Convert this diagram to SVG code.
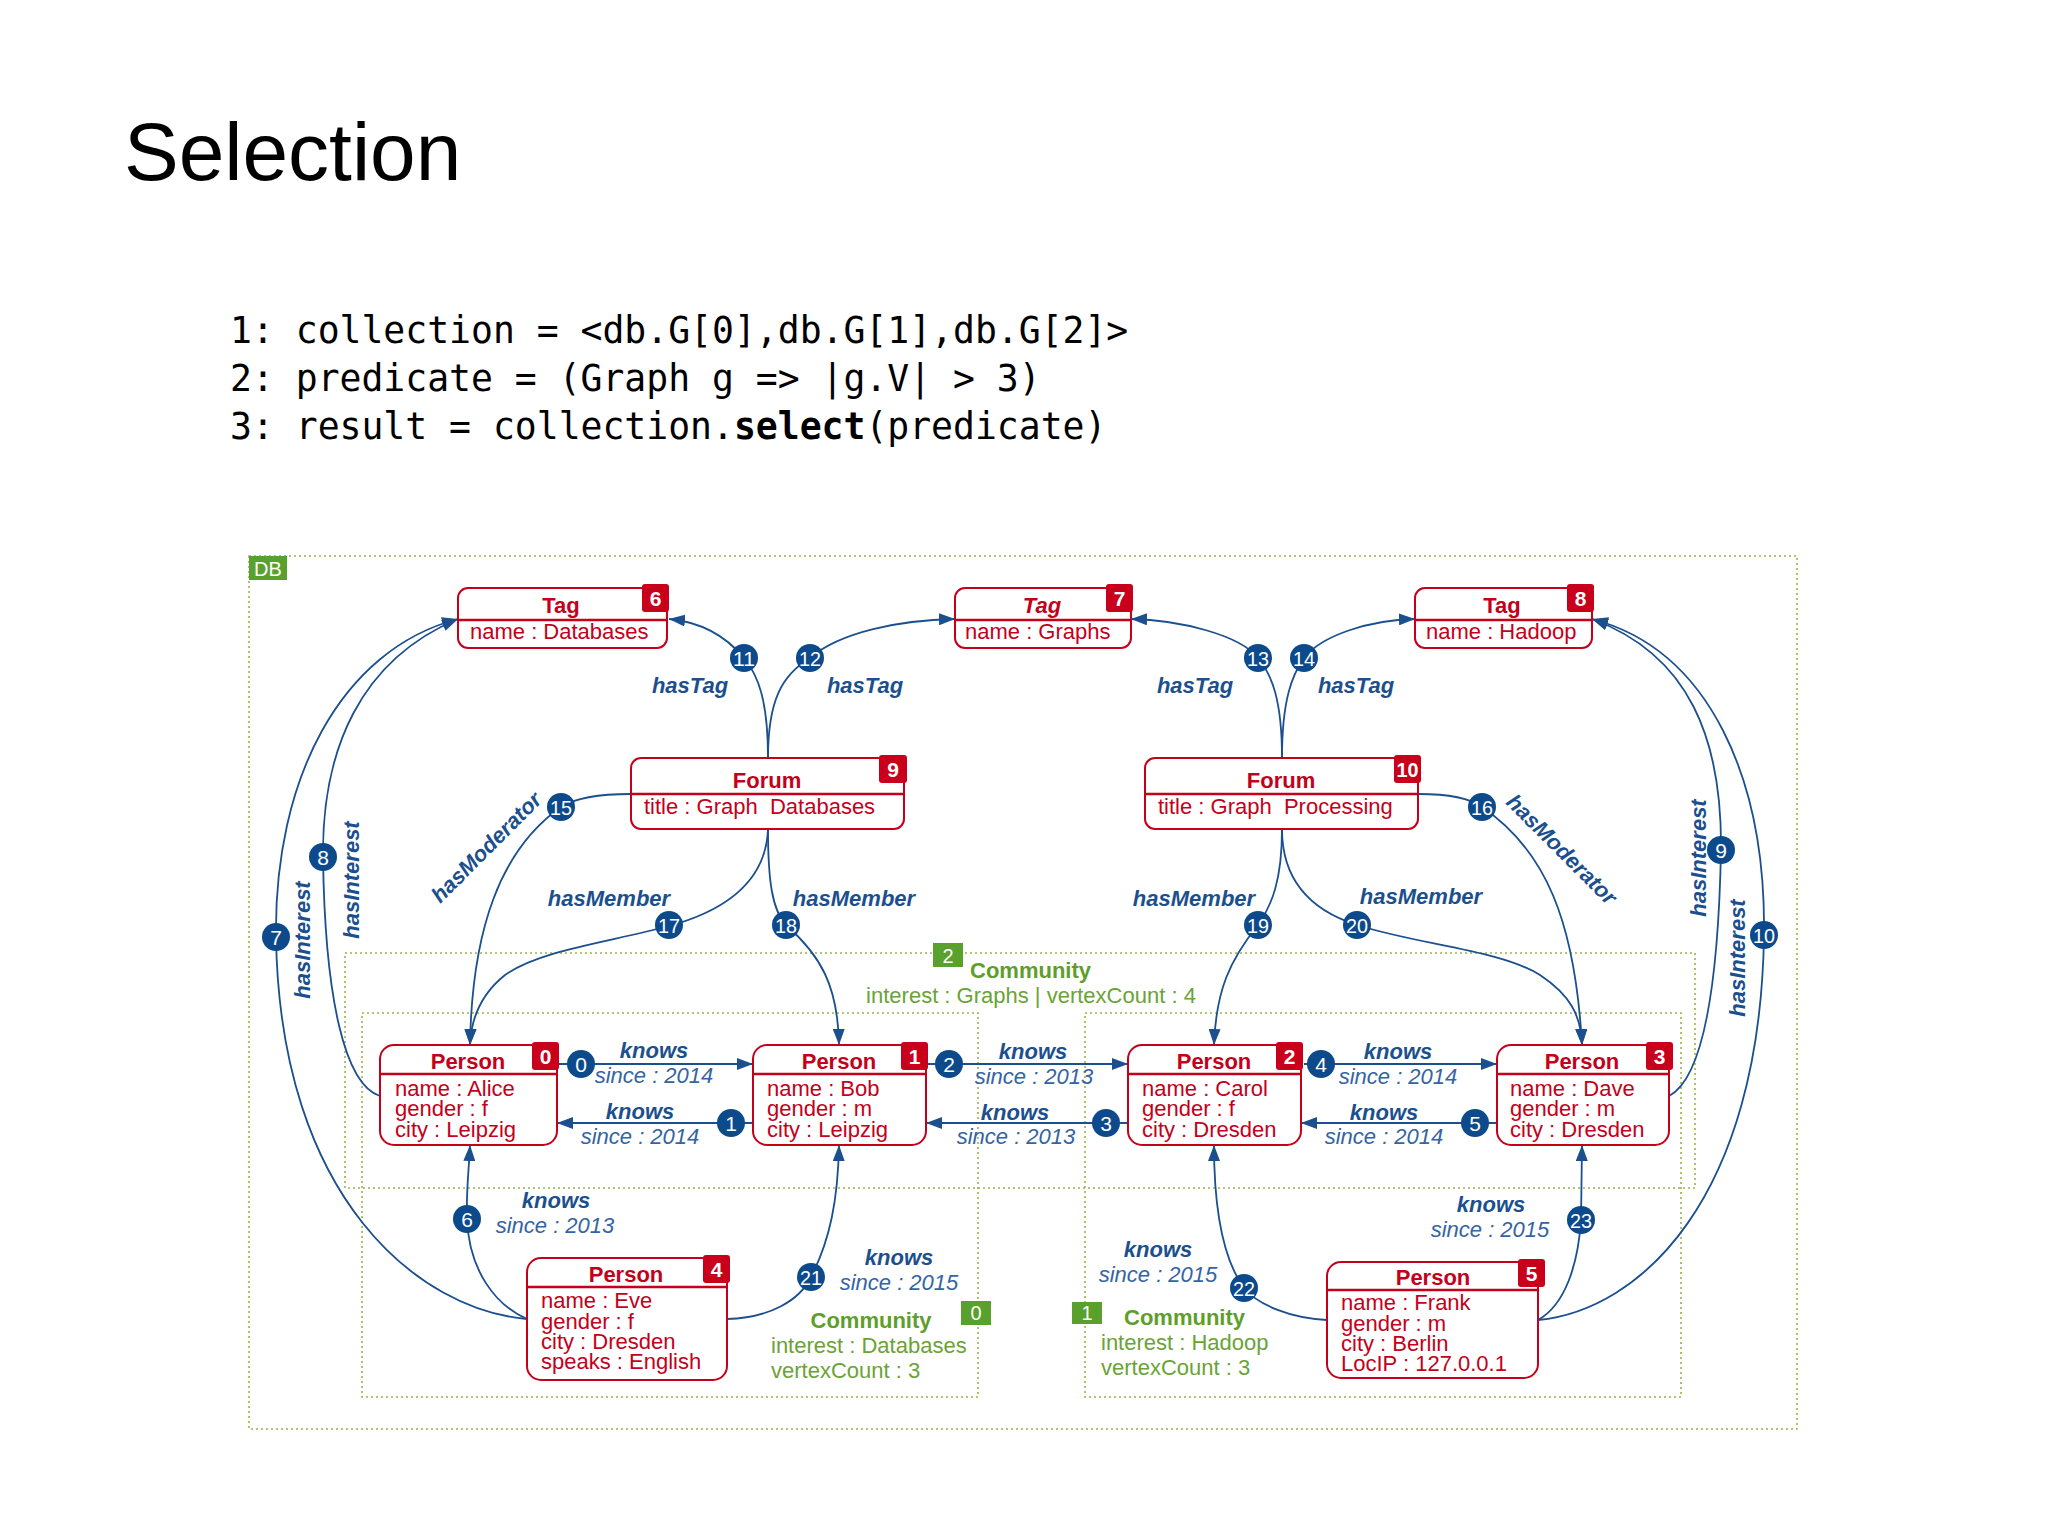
<svg xmlns="http://www.w3.org/2000/svg" width="2048" height="1536" viewBox="0 0 2048 1536">
<defs>
<marker id="arr" markerUnits="userSpaceOnUse" viewBox="0 0 16 12" refX="16" refY="6" markerWidth="16" markerHeight="12" orient="auto">
<path d="M0,0 L16,6 L0,12 z" fill="#1b4f8d"/>
</marker>
<style>
.title{font-family:"Liberation Sans",Arial,sans-serif;font-size:82px;fill:#000}
.code{font-family:"DejaVu Sans Mono","Liberation Mono",monospace;font-size:36.4px;fill:#000;white-space:pre}
.box{fill:#fff;stroke:#c4001a;stroke-width:2}
.div{stroke:#c4001a;stroke-width:2.5}
.badge{fill:#c9001b}
.bt{font-family:"Liberation Sans",Arial,sans-serif;font-size:21px;font-weight:bold;fill:#fff;text-anchor:middle}
.hd{font-family:"Liberation Sans",Arial,sans-serif;font-size:22px;font-weight:bold;fill:#c4001a;text-anchor:middle}
.at{font-family:"Liberation Sans",Arial,sans-serif;font-size:22px;fill:#c4001a;white-space:pre}
.ea{fill:none;stroke:#1b4f8d;stroke-width:1.8;marker-end:url(#arr)}
.ec{fill:#0c4a8c}
.et{font-family:"Liberation Sans",Arial,sans-serif;font-size:21px;fill:#fff;text-anchor:middle}
.lb{font-family:"Liberation Sans",Arial,sans-serif;font-size:22px;font-weight:bold;font-style:italic;fill:#1b4f8d;text-anchor:middle}
.ls{font-family:"Liberation Sans",Arial,sans-serif;font-size:22px;font-style:italic;fill:#3564a3;text-anchor:middle}
.dot{fill:none;stroke:#9ab34a;stroke-width:1.6;stroke-dasharray:2 3}
.gl{fill:#5aa02c}
.glt{font-family:"Liberation Sans",Arial,sans-serif;font-size:20px;fill:#fff;text-anchor:middle}
.cm{font-family:"Liberation Sans",Arial,sans-serif;font-size:22px;font-weight:bold;fill:#5e9e2b}
.ci{font-family:"Liberation Sans",Arial,sans-serif;font-size:22px;fill:#6aa336}
</style>
</defs>
<rect width="2048" height="1536" fill="#fff"/>

<text class="title" x="124" y="180">Selection</text>
<text class="code" x="230" y="343">1: collection = &lt;db.G[0],db.G[1],db.G[2]&gt;</text>
<text class="code" x="230" y="391">2: predicate = (Graph g =&gt; |g.V| &gt; 3)</text>
<text class="code" x="230" y="439">3: result = collection.<tspan font-weight="bold">select</tspan>(predicate)</text>

<g id="graphs">
<g id="db">
<rect class="dot" x="249" y="556" width="1548" height="873"/>
<rect class="gl" x="249" y="556" width="38" height="24"/>
<text class="glt" x="268" y="576">DB</text>
</g>
<g id="community2">
<rect class="dot" x="345" y="953" width="1350" height="235"/>
<rect class="gl" x="933" y="943" width="30" height="24"/>
<text class="glt" x="948" y="963">2</text>
<text class="cm" x="970" y="978">Community</text>
<text class="ci" x="1031" y="1003" text-anchor="middle">interest : Graphs | vertexCount : 4</text>
</g>
<g id="community0">
<rect class="dot" x="362" y="1013" width="616" height="384"/>
<rect class="gl" x="961" y="1301" width="30" height="24"/>
<text class="glt" x="976" y="1320">0</text>
<text class="cm" x="871" y="1328" text-anchor="middle">Community</text>
<text class="ci" x="771" y="1353">interest : Databases</text>
<text class="ci" x="771" y="1378">vertexCount : 3</text>
</g>
<g id="community1">
<rect class="dot" x="1085" y="1013" width="596" height="384"/>
<rect class="gl" x="1072" y="1302" width="30" height="22"/>
<text class="glt" x="1087" y="1320">1</text>
<text class="cm" x="1124" y="1325">Community</text>
<text class="ci" x="1101" y="1350">interest : Hadoop</text>
<text class="ci" x="1101" y="1375">vertexCount : 3</text>
</g>
</g>

<g id="connectors">
<path class="ea" d="M768,758 C768,700 758,675 744,658 C725,635 700,622 669,619"/>
<path class="ea" d="M768,758 C768,700 782,675 810,658 C840,632 900,620 955,619"/>
<path class="ea" d="M1282,758 C1282,700 1272,675 1258,658 C1240,635 1180,620 1131,619"/>
<path class="ea" d="M1282,758 C1282,700 1292,675 1304,658 C1322,635 1370,620 1415,619"/>
<path class="ea" d="M631,794 C600,794 575,798 561,807 C500,850 472,930 470,1045"/>
<path class="ea" d="M768,829 C766,885 720,912 669,926 C610,942 540,950 505,975 C480,995 471,1020 470,1045"/>
<path class="ea" d="M768,829 C768,880 772,910 786,925 C820,955 838,985 839,1045"/>
<path class="ea" d="M1282,829 C1282,880 1272,905 1258,925 C1230,960 1216,990 1214,1045"/>
<path class="ea" d="M1282,829 C1282,880 1310,910 1357,925 C1420,945 1500,950 1540,975 C1570,995 1581,1015 1582,1045"/>
<path class="ea" d="M1418,794 C1450,794 1470,798 1482,807 C1545,850 1575,920 1582,1045"/>
<path class="ea" d="M380,1096 C345,1085 325,1000 323,857 C322,750 360,660 458,619"/>
<path class="ea" d="M527,1319 C420,1310 280,1200 276,937 C274,780 340,650 458,619"/>
<path class="ea" d="M1669,1096 C1700,1080 1718,1000 1721,850 C1722,740 1690,655 1592,619"/>
<path class="ea" d="M1538,1320 C1640,1310 1760,1200 1764,935 C1766,780 1710,650 1592,619"/>
<path class="ea" d="M527,1319 C495,1305 469,1270 467,1219 C466,1190 469,1170 470,1145"/>
<path class="ea" d="M727,1319 C770,1318 800,1300 811,1277 C830,1240 838,1200 839,1145"/>
<path class="ea" d="M1327,1320 C1290,1318 1258,1305 1244,1288 C1220,1255 1214,1200 1214,1145"/>
<path class="ea" d="M1538,1320 C1565,1305 1578,1265 1581,1220 L1582,1145"/>
<path class="ea" d="M559,1064 L753,1064"/>
<path class="ea" d="M753,1123 L557,1123"/>
<path class="ea" d="M928,1064 L1128,1064"/>
<path class="ea" d="M1128,1123 L926,1123"/>
<path class="ea" d="M1304,1064 L1497,1064"/>
<path class="ea" d="M1497,1123 L1301,1123"/>

<g id="edge-ids">
<circle class="ec" cx="581" cy="1064" r="14"/><text class="et" x="581" y="1071.5">0</text>
<circle class="ec" cx="731" cy="1123" r="14"/><text class="et" x="731" y="1130.5">1</text>
<circle class="ec" cx="949" cy="1064" r="14"/><text class="et" x="949" y="1071.5">2</text>
<circle class="ec" cx="1106" cy="1123" r="14"/><text class="et" x="1106" y="1130.5">3</text>
<circle class="ec" cx="1321" cy="1064" r="14"/><text class="et" x="1321" y="1071.5">4</text>
<circle class="ec" cx="1475" cy="1123" r="14"/><text class="et" x="1475" y="1130.5">5</text>
<circle class="ec" cx="467" cy="1219" r="14"/><text class="et" x="467" y="1226.5">6</text>
<circle class="ec" cx="276" cy="937" r="14"/><text class="et" x="276" y="944.5">7</text>
<circle class="ec" cx="323" cy="857" r="14"/><text class="et" x="323" y="864.5">8</text>
<circle class="ec" cx="1721" cy="850" r="14"/><text class="et" x="1721" y="857.5">9</text>
<circle class="ec" cx="1764" cy="935" r="14"/><text class="et" x="1764" y="942.5" textLength="22" lengthAdjust="spacingAndGlyphs">10</text>
<circle class="ec" cx="744" cy="658" r="14"/><text class="et" x="744" y="665.5" textLength="22" lengthAdjust="spacingAndGlyphs">11</text>
<circle class="ec" cx="810" cy="658" r="14"/><text class="et" x="810" y="665.5" textLength="22" lengthAdjust="spacingAndGlyphs">12</text>
<circle class="ec" cx="1258" cy="658" r="14"/><text class="et" x="1258" y="665.5" textLength="22" lengthAdjust="spacingAndGlyphs">13</text>
<circle class="ec" cx="1304" cy="658" r="14"/><text class="et" x="1304" y="665.5" textLength="22" lengthAdjust="spacingAndGlyphs">14</text>
<circle class="ec" cx="561" cy="807" r="14"/><text class="et" x="561" y="814.5" textLength="22" lengthAdjust="spacingAndGlyphs">15</text>
<circle class="ec" cx="1482" cy="807" r="14"/><text class="et" x="1482" y="814.5" textLength="22" lengthAdjust="spacingAndGlyphs">16</text>
<circle class="ec" cx="669" cy="925" r="14"/><text class="et" x="669" y="932.5" textLength="22" lengthAdjust="spacingAndGlyphs">17</text>
<circle class="ec" cx="786" cy="925" r="14"/><text class="et" x="786" y="932.5" textLength="22" lengthAdjust="spacingAndGlyphs">18</text>
<circle class="ec" cx="1258" cy="925" r="14"/><text class="et" x="1258" y="932.5" textLength="22" lengthAdjust="spacingAndGlyphs">19</text>
<circle class="ec" cx="1357" cy="925" r="14"/><text class="et" x="1357" y="932.5" textLength="22" lengthAdjust="spacingAndGlyphs">20</text>
<circle class="ec" cx="811" cy="1277" r="14"/><text class="et" x="811" y="1284.5" textLength="22" lengthAdjust="spacingAndGlyphs">21</text>
<circle class="ec" cx="1244" cy="1288" r="14"/><text class="et" x="1244" y="1295.5" textLength="22" lengthAdjust="spacingAndGlyphs">22</text>
<circle class="ec" cx="1581" cy="1220" r="14"/><text class="et" x="1581" y="1227.5" textLength="22" lengthAdjust="spacingAndGlyphs">23</text>
</g>

<g id="edge-labels">
<text class="lb" x="690" y="693">hasTag</text>
<text class="lb" x="865" y="693">hasTag</text>
<text class="lb" x="1195" y="693">hasTag</text>
<text class="lb" x="1356" y="693">hasTag</text>
<text class="lb" x="609" y="906">hasMember</text>
<text class="lb" x="854" y="906">hasMember</text>
<text class="lb" x="1194" y="906">hasMember</text>
<text class="lb" x="1421" y="904">hasMember</text>
<text class="lb" transform="translate(486,847) rotate(-45)" x="0" y="8">hasModerator</text>
<text class="lb" transform="translate(1562,849) rotate(45)" x="0" y="8">hasModerator</text>
<text class="lb" transform="translate(351,880) rotate(-90)" x="0" y="8">hasInterest</text>
<text class="lb" transform="translate(302,940) rotate(-90)" x="0" y="8">hasInterest</text>
<text class="lb" transform="translate(1698,858) rotate(-90)" x="0" y="8">hasInterest</text>
<text class="lb" transform="translate(1737,958) rotate(-90)" x="0" y="8">hasInterest</text>
<text class="lb" x="654" y="1058">knows</text><text class="ls" x="654" y="1083">since : 2014</text>
<text class="lb" x="640" y="1119">knows</text><text class="ls" x="640" y="1144">since : 2014</text>
<text class="lb" x="1033" y="1059">knows</text><text class="ls" x="1034" y="1084">since : 2013</text>
<text class="lb" x="1015" y="1120">knows</text><text class="ls" x="1016" y="1144">since : 2013</text>
<text class="lb" x="1398" y="1059">knows</text><text class="ls" x="1398" y="1084">since : 2014</text>
<text class="lb" x="1384" y="1120">knows</text><text class="ls" x="1384" y="1144">since : 2014</text>
<text class="lb" x="556" y="1208">knows</text><text class="ls" x="555" y="1233">since : 2013</text>
<text class="lb" x="899" y="1265">knows</text><text class="ls" x="899" y="1290">since : 2015</text>
<text class="lb" x="1158" y="1257">knows</text><text class="ls" x="1158" y="1282">since : 2015</text>
<text class="lb" x="1491" y="1212">knows</text><text class="ls" x="1490" y="1237">since : 2015</text>
</g>
</g>

<g id="tag6">
<rect class="box" x="458" y="588" width="209" height="60" rx="10"/>
<line class="div" x1="458" y1="620" x2="667" y2="620"/>
<rect class="badge" x="642" y="584" width="27" height="28" rx="3"/>
<text class="bt" x="655.5" y="606">6</text>
<text class="hd" x="561" y="613">Tag</text>
<text class="at" x="470" y="639">name : Databases</text>
</g>
<g id="tag7">
<rect class="box" x="955" y="588" width="176" height="60" rx="10"/>
<line class="div" x1="955" y1="620" x2="1131" y2="620"/>
<rect class="badge" x="1106" y="584" width="27" height="28" rx="3"/>
<text class="bt" x="1119.5" y="606">7</text>
<text class="hd" x="1042" y="613" font-style="italic">Tag</text>
<text class="at" x="965" y="639">name : Graphs</text>
</g>
<g id="tag8">
<rect class="box" x="1415" y="588" width="177" height="60" rx="10"/>
<line class="div" x1="1415" y1="620" x2="1592" y2="620"/>
<rect class="badge" x="1567" y="584" width="27" height="28" rx="3"/>
<text class="bt" x="1580.5" y="606">8</text>
<text class="hd" x="1502" y="613">Tag</text>
<text class="at" x="1426" y="639">name : Hadoop</text>
</g>
<g id="forum9">
<rect class="box" x="631" y="758" width="273" height="71" rx="10"/>
<line class="div" x1="631" y1="794" x2="904" y2="794"/>
<rect class="badge" x="879" y="755" width="28" height="28" rx="3"/>
<text class="bt" x="893" y="777">9</text>
<text class="hd" x="767" y="788">Forum</text>
<text class="at" x="644" y="814">title : Graph  Databases</text>
</g>
<g id="forum10">
<rect class="box" x="1145" y="758" width="273" height="71" rx="10"/>
<line class="div" x1="1145" y1="794" x2="1418" y2="794"/>
<rect class="badge" x="1394" y="755" width="27" height="28" rx="3"/>
<text class="bt" x="1407.5" y="777" textLength="22" lengthAdjust="spacingAndGlyphs">10</text>
<text class="hd" x="1281" y="788">Forum</text>
<text class="at" x="1158" y="814">title : Graph  Processing</text>
</g>
<g id="person0">
<rect class="box" x="380" y="1045" width="177" height="100" rx="14"/>
<line class="div" x1="380" y1="1074" x2="557" y2="1074"/>
<rect class="badge" x="532" y="1042" width="27" height="28" rx="3"/>
<text class="bt" x="545.5" y="1064">0</text>
<text class="hd" x="468" y="1069">Person</text>
<text class="at" x="395" y="1096">name : Alice</text>
<text class="at" x="395" y="1116">gender : f</text>
<text class="at" x="395" y="1137">city : Leipzig</text>
</g>
<g id="person1">
<rect class="box" x="753" y="1045" width="173" height="100" rx="14"/>
<line class="div" x1="753" y1="1074" x2="926" y2="1074"/>
<rect class="badge" x="901" y="1042" width="27" height="28" rx="3"/>
<text class="bt" x="914.5" y="1064">1</text>
<text class="hd" x="839" y="1069">Person</text>
<text class="at" x="767" y="1096">name : Bob</text>
<text class="at" x="767" y="1116">gender : m</text>
<text class="at" x="767" y="1137">city : Leipzig</text>
</g>
<g id="person2">
<rect class="box" x="1128" y="1045" width="173" height="100" rx="14"/>
<line class="div" x1="1128" y1="1074" x2="1301" y2="1074"/>
<rect class="badge" x="1276" y="1042" width="27" height="28" rx="3"/>
<text class="bt" x="1289.5" y="1064">2</text>
<text class="hd" x="1214" y="1069">Person</text>
<text class="at" x="1142" y="1096">name : Carol</text>
<text class="at" x="1142" y="1116">gender : f</text>
<text class="at" x="1142" y="1137">city : Dresden</text>
</g>
<g id="person3">
<rect class="box" x="1497" y="1045" width="172" height="100" rx="14"/>
<line class="div" x1="1497" y1="1074" x2="1669" y2="1074"/>
<rect class="badge" x="1646" y="1042" width="27" height="28" rx="3"/>
<text class="bt" x="1659.5" y="1064">3</text>
<text class="hd" x="1582" y="1069">Person</text>
<text class="at" x="1510" y="1096">name : Dave</text>
<text class="at" x="1510" y="1116">gender : m</text>
<text class="at" x="1510" y="1137">city : Dresden</text>
</g>
<g id="person4">
<rect class="box" x="527" y="1258" width="200" height="122" rx="14"/>
<line class="div" x1="527" y1="1287" x2="727" y2="1287"/>
<rect class="badge" x="703" y="1255" width="27" height="28" rx="3"/>
<text class="bt" x="716.5" y="1277">4</text>
<text class="hd" x="626" y="1282">Person</text>
<text class="at" x="541" y="1308">name : Eve</text>
<text class="at" x="541" y="1329">gender : f</text>
<text class="at" x="541" y="1349">city : Dresden</text>
<text class="at" x="541" y="1369">speaks : English</text>
</g>
<g id="person5">
<rect class="box" x="1327" y="1262" width="211" height="116" rx="14"/>
<line class="div" x1="1327" y1="1290" x2="1538" y2="1290"/>
<rect class="badge" x="1518" y="1259" width="27" height="28" rx="3"/>
<text class="bt" x="1531.5" y="1281">5</text>
<text class="hd" x="1433" y="1285">Person</text>
<text class="at" x="1341" y="1310">name : Frank</text>
<text class="at" x="1341" y="1331">gender : m</text>
<text class="at" x="1341" y="1351">city : Berlin</text>
<text class="at" x="1341" y="1371">LocIP : 127.0.0.1</text>
</g>
</svg>
